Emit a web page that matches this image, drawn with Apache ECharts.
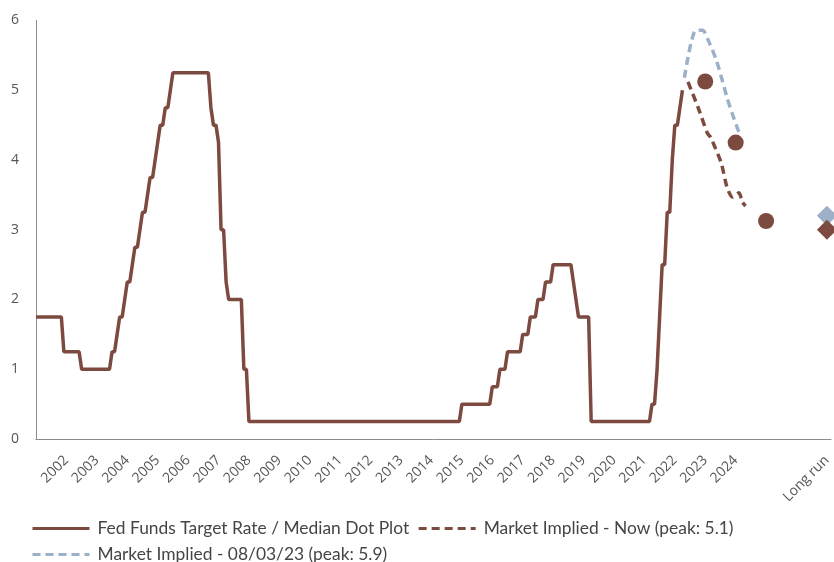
<!DOCTYPE html>
<html>
<head>
<meta charset="utf-8">
<script src="https://cdn.jsdelivr.net/npm/echarts@6/dist/echarts.min.js"></script>
<style>
html,body{margin:0;padding:0;background:#fff;}
#chart{width:834px;height:562px;}
</style>
</head>
<body>
<div id="chart"></div>
<script>
// ---- data ----
// Fed funds target rate: month of change -> new rate
const fedStartMonth = '2001-12';
const fedStartRate = 1.75;
const fedChangeMonths = ['2002-11','2003-06','2004-06','2004-08','2004-09','2004-11','2004-12','2005-02','2005-03','2005-05','2005-06','2005-08','2005-09','2005-11','2005-12','2006-01','2006-03','2006-05','2006-06','2007-09','2007-10','2007-12','2008-01','2008-03','2008-04','2008-10','2008-12','2015-12','2016-12','2017-03','2017-06','2017-12','2018-03','2018-06','2018-09','2018-12','2019-08','2019-09','2019-10','2020-03','2022-03','2022-05','2022-06','2022-07','2022-09','2022-11','2022-12','2023-02','2023-03'];
const fedChangeRates = [1.25,1.00,1.25,1.50,1.75,2.00,2.25,2.50,2.75,3.00,3.25,3.50,3.75,4.00,4.25,4.50,4.75,5.00,5.25,4.75,4.50,4.25,3.00,2.25,2.00,1.00,0.25,0.50,0.75,1.00,1.25,1.50,1.75,2.00,2.25,2.50,2.25,2.00,1.75,0.25,0.50,1.00,1.75,2.50,3.25,4.00,4.50,4.75,5.00];
const fedEndMonth = '2023-03';

// Median dot plot (end of year)
const dotYears = [2023, 2024, 2025];
const dotValues = [5.125, 4.25, 3.125];

// Market implied - now (peak 5.1)
const nowX = [2023.35, 2023.71, 2023.98, 2024.10, 2024.44, 2024.63, 2024.80, 2025.03, 2025.13, 2025.24];
const nowY = [5.12, 4.72, 4.39, 4.32, 3.96, 3.61, 3.47, 3.53, 3.40, 3.34];

// Market implied - 08/03/23 (peak 5.9)
const prevX = [2023.23, 2023.45, 2023.62, 2023.82, 2024.05, 2024.28, 2024.47, 2024.63, 2024.80, 2025.03];
const prevY = [5.18, 5.68, 5.86, 5.86, 5.68, 5.43, 5.15, 4.90, 4.67, 4.39];

// Long run values
const longRunNow = 3.0;
const longRunPrev = 3.2;

// Axis labels
const xTickYears = [2002,2003,2004,2005,2006,2007,2008,2009,2010,2011,2012,2013,2014,2015,2016,2017,2018,2019,2020,2021,2022,2023,2024];
const longRunLabel = 'Long run';
const longRunYear = 2027;
const yTicks = [0,1,2,3,4,5,6];

const seriesNames = ['Fed Funds Target Rate / Median Dot Plot', 'Market Implied - Now (peak: 5.1)', 'Market Implied - 08/03/23 (peak: 5.9)'];

// ---- build ----
function mx(s){ const p = s.split('-'); return +p[0] + (+p[1]-1)/12; }
const decX = y => y + 11/12;

const fedData = [[mx(fedStartMonth), fedStartRate]];
let cur = fedStartRate;
fedChangeMonths.forEach((m, i) => {
  const x = mx(m);
  fedData.push([x - 1/12, cur]);
  fedData.push([x, fedChangeRates[i]]);
  cur = fedChangeRates[i];
});
fedData.push([mx(fedEndMonth), cur]);

const dotData = dotYears.map((y, i) => [decX(y), dotValues[i]]);
const nowData = nowX.map((x, i) => [x, nowY[i]]);
const prevData = prevX.map((x, i) => [x, prevY[i]]);

const labelMap = {};
xTickYears.forEach(y => { labelMap[Math.round(decX(y)*12)] = String(y); });
labelMap[Math.round(decX(longRunYear)*12)] = longRunLabel;
const xCustom = xTickYears.map(decX).concat([decX(longRunYear)]);

const BROWN = '#7D4A40';
const BLUE = '#9CB0C8';
const AXIS = '#8C8C8C';
const TEXT = '#454545';
const LABEL = '#555555';
const AXIS_FONT = "'Open Sans', 'DejaVu Sans', sans-serif";

const legendCommon = {
  padding: 0,
  itemWidth: 57, itemHeight: 14, itemGap: 8,
  itemStyle: { opacity: 0, borderWidth: 0 },
  lineStyle: { width: 3 },
  textStyle: { fontFamily: 'Lato', fontSize: 17.4, color: TEXT, padding: [0,0,0,3] }
};

const chart = echarts.init(document.getElementById('chart'));
chart.setOption({
  animation: false,
  backgroundColor: '#ffffff',
  grid: { left: 36, right: 2, top: 20.5, bottom: 123, containLabel: false },
  xAxis: {
    type: 'value',
    min: 2001 + 11/12,
    max: 2028.05,
    axisLine: { show: true, lineStyle: { color: AXIS, width: 1 } },
    axisTick: { show: false },
    splitLine: { show: false },
    axisLabel: {
      customValues: xCustom,
      rotate: 45,
      margin: 19,
      color: LABEL,
      fontFamily: AXIS_FONT,
      fontSize: 14,
      formatter: v => labelMap[Math.round(v*12)] || ''
    }
  },
  yAxis: {
    type: 'value',
    min: 0, max: 6, interval: 1,
    axisLine: { show: true, lineStyle: { color: AXIS, width: 1 } },
    axisTick: { show: false },
    splitLine: { show: false },
    axisLabel: { margin: 17, color: LABEL, fontFamily: AXIS_FONT, fontSize: 14 }
  },
  legend: [
    Object.assign({ left: 31, top: 520, data: [seriesNames[0], seriesNames[1]] }, legendCommon),
    Object.assign({ left: 31, top: 546, data: [seriesNames[2]] }, legendCommon)
  ],
  series: [
    {
      name: seriesNames[2], type: 'line', data: prevData,
      symbol: 'none', smooth: 0.3, z: 2,
      lineStyle: { color: BLUE, width: 3.5, type: [8,5] },
      itemStyle: { color: BLUE }
    },
    {
      name: seriesNames[1], type: 'line', data: nowData,
      symbol: 'none', smooth: 0.2, z: 3,
      lineStyle: { color: BROWN, width: 3.5, type: [8,5] },
      itemStyle: { color: BROWN }
    },
    {
      name: seriesNames[0], type: 'line', data: fedData,
      symbol: 'none', z: 4,
      lineStyle: { color: BROWN, width: 3.5 },
      itemStyle: { color: BROWN }
    },
    {
      name: 'Median Dot Plot', type: 'scatter', data: dotData,
      symbol: 'circle', symbolSize: 16, z: 5,
      itemStyle: { color: BROWN, opacity: 1 }
    },
    {
      name: 'Long run 08/03/23', type: 'scatter', data: [[decX(longRunYear), longRunPrev]],
      symbol: 'diamond', symbolSize: [20, 20], z: 5,
      itemStyle: { color: BLUE, opacity: 1 }
    },
    {
      name: 'Long run now', type: 'scatter', data: [[decX(longRunYear), longRunNow]],
      symbol: 'diamond', symbolSize: [20, 20], z: 6,
      itemStyle: { color: BROWN, opacity: 1 }
    }
  ]
});
</script>
</body>
</html>
